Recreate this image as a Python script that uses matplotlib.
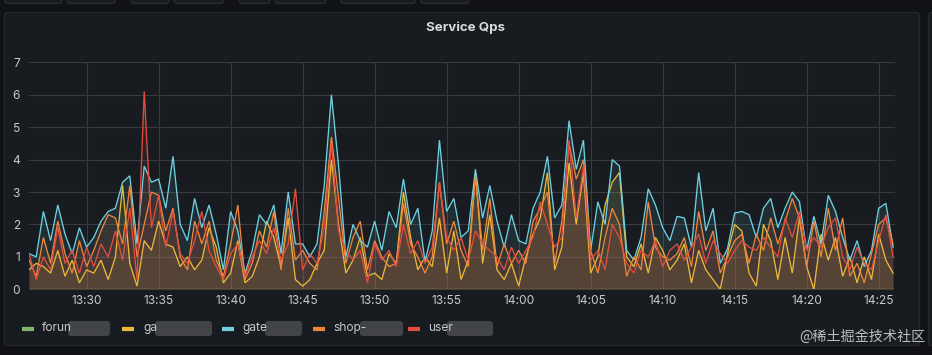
import matplotlib
matplotlib.use("Agg")
import matplotlib.pyplot as plt
import matplotlib.dates as mdates
import matplotlib.transforms as mtransforms
from matplotlib.patches import FancyBboxPatch, Rectangle
from matplotlib.lines import Line2D
import pandas as pd

# ---------------- data ----------------
start_time = "2023-01-01 13:26:00"
step = "30s"

series_names = ["forun", "ga", "gate", "shop-", "user"]
series_colors = ["#7EB26D", "#EAB839", "#6ED0E0", "#EF843C", "#E24D42"]

forum = [0.0] * 121

ga = [0.6, 0.8, 0.7, 0.5, 1.2, 0.4, 0.9, 0.2, 0.6, 0.5,
      0.9, 0.3, 1.0, 3.2, 0.8, 0.1, 1.5, 1.2, 2.1, 1.4,
      1.3, 0.7, 1.0, 0.6, 0.9, 1.9, 1.3, 0.2, 0.5, 1.5,
      0.2, 0.4, 1.0, 2.1, 1.6, 0.7, 2.2, 0.3, 0.1, 0.3,
      0.8, 1.2, 4.0, 2.0, 0.5, 0.9, 1.6, 0.4, 0.5, 0.3,
      1.1, 0.8, 3.0, 1.6, 0.6, 1.0, 0.7, 2.2, 0.5, 1.8,
      0.3, 0.9, 3.6, 0.8, 2.3, 0.6, 0.3, 0.8, 0.1, 1.0,
      1.7, 2.2, 3.6, 0.6, 1.3, 3.9, 2.0, 3.6, 0.5, 1.0,
      2.6, 3.3, 3.6, 1.0, 0.7, 1.4, 0.5, 1.6, 1.2, 0.6,
      0.9, 1.4, 0.2, 1.2, 0.6, 0.3, 0.0, 1.1, 2.0, 1.8,
      0.5, 0.1, 2.0, 1.5, 0.3, 1.6, 0.5, 2.2, 0.7, 0.0,
      1.7, 0.9, 1.6, 0.4, 1.0, 0.2, 1.0, 0.3, 1.7, 0.9,
      0.5]

gate = [1.1, 1.0, 2.4, 1.5, 2.6, 1.7, 1.1, 1.9, 1.3, 1.6,
        2.1, 2.4, 2.5, 3.3, 3.5, 1.4, 3.8, 3.3, 3.4, 2.5,
        4.1, 2.0, 1.5, 2.8, 1.9, 2.6, 1.7, 0.6, 2.4, 1.8,
        0.5, 1.2, 2.3, 2.0, 2.6, 1.1, 3.0, 1.4, 1.4, 1.0,
        1.4, 3.2, 6.0, 3.8, 1.0, 2.0, 1.5, 1.3, 2.1, 1.2,
        2.4, 1.9, 3.4, 2.0, 2.5, 0.85, 1.8, 4.6, 2.4, 2.8,
        1.6, 1.8, 3.7, 2.2, 3.2, 2.1, 1.3, 2.3, 1.5, 1.4,
        2.5, 3.0, 4.1, 2.2, 2.6, 5.2, 3.7, 4.6, 1.2, 2.7,
        2.0, 4.0, 3.8, 1.2, 0.9, 1.6, 3.1, 2.6, 1.9, 1.5,
        2.25, 2.2, 1.3, 3.6, 1.8, 2.5, 0.8, 1.25, 2.35, 2.4,
        2.3, 1.6, 2.5, 2.8, 1.9, 2.5, 3.0, 2.7, 1.2, 2.25,
        1.4, 2.9, 2.4, 1.6, 0.9, 1.5, 0.7, 1.2, 2.5, 2.65,
        1.3]

shop = [0.9, 0.4, 1.6, 0.8, 2.1, 1.1, 0.5, 1.5, 0.7, 1.2,
        1.8, 2.3, 2.2, 1.4, 3.2, 1.0, 2.0, 3.0, 2.9, 1.8,
        2.5, 1.0, 0.6, 2.1, 1.4, 2.1, 0.9, 0.4, 1.4, 2.6,
        0.3, 0.8, 1.8, 1.3, 2.4, 0.6, 2.5, 0.9, 1.2, 0.8,
        0.6, 2.4, 4.7, 2.8, 0.8, 1.6, 2.1, 0.6, 1.5, 1.0,
        0.7, 0.8, 2.65, 1.4, 1.0, 0.5, 1.0, 3.3, 1.4, 2.1,
        1.2, 0.7, 3.5, 1.2, 2.8, 0.7, 1.4, 0.8, 1.2, 0.8,
        2.1, 2.5, 3.0, 0.8, 2.1, 4.5, 3.4, 4.0, 1.2, 0.5,
        1.6, 2.5, 2.0, 0.4, 1.0, 0.6, 2.7, 1.3, 1.0, 0.9,
        1.1, 1.6, 0.7, 2.4, 1.2, 1.8, 0.5, 1.0, 1.5, 1.7,
        0.8, 1.7, 1.2, 2.2, 1.4, 2.1, 2.8, 2.2, 0.7, 2.1,
        1.0, 2.5, 1.2, 2.2, 0.4, 0.8, 0.2, 1.1, 2.0, 2.2,
        1.4]

user = [1.1, 0.3, 1.0, 0.6, 1.9, 0.8, 1.2, 0.5, 1.3, 0.7,
        1.4, 1.0, 1.8, 0.9, 2.5, 0.3, 6.1, 1.9, 2.9, 1.3,
        2.4, 1.1, 0.8, 1.5, 2.4, 1.2, 0.7, 0.3, 1.1, 1.4,
        0.4, 1.0, 1.5, 1.1, 1.9, 0.9, 1.4, 3.1, 0.6, 1.1,
        0.8, 1.9, 4.5, 1.8, 1.2, 0.9, 1.2, 0.2, 1.4, 0.9,
        1.2, 0.7, 2.0, 1.1, 1.5, 0.8, 1.3, 3.3, 1.6, 1.2,
        1.6, 0.9, 1.8, 1.4, 1.2, 1.0, 0.6, 1.3, 0.8, 1.2,
        1.6, 2.7, 2.0, 1.3, 1.6, 4.6, 2.2, 3.8, 0.9, 1.2,
        0.6, 2.0, 1.6, 0.8, 0.5, 1.2, 1.0, 1.5, 0.7, 1.2,
        1.4, 0.9, 1.3, 1.7, 0.8, 1.5, 1.1, 0.8, 1.2, 1.5,
        1.3, 1.2, 1.6, 1.3, 1.0, 2.2, 1.6, 2.4, 1.2, 1.6,
        1.3, 1.9, 2.2, 1.0, 0.6, 1.3, 0.8, 0.6, 1.5, 2.3,
        1.0]

y_ticks = [0, 1, 2, 3, 4, 5, 6, 7]
title = "Service Qps"
watermark = "@稀土掘金技术社区"

# ---------------- style ----------------
W, H = 932, 355
PAGE_BG = "#111217"
PANEL_BG = "#181b1f"
PANEL_BORDER = "#25272c"
GRID = "#393b41"
TEXT = "#c8c9d0"

plt.rcParams["font.family"] = ["Inter", "DejaVu Sans"]

fig = plt.figure(figsize=(W / 100, H / 100), dpi=100, facecolor=PAGE_BG)
ident = mtransforms.IdentityTransform()


def rect_px(x0, y0, x1, y1, zorder=-5, **kw):
    # pixel coords from top-left
    p = FancyBboxPatch((x0, H - y1), x1 - x0, y1 - y0,
                       boxstyle="round,pad=0,rounding_size=3",
                       transform=ident, zorder=zorder, **kw)
    fig.patches.append(p)
    return p


# top control strip (cut off)
for x0, x1 in [(5, 62), (67, 115), (131, 169), (174, 223), (239, 270),
               (275, 326), (341, 415), (421, 469)]:
    rect_px(x0, -6, x1, 3.5, facecolor=PANEL_BG, edgecolor="#2c2e34", lw=0.9)

# main panel and neighbour panel edge
rect_px(4.5, 12.5, 919.5, 345.5, facecolor=PANEL_BG, edgecolor=PANEL_BORDER, lw=1)
rect_px(928.5, 12.5, 960, 345.5, facecolor=PANEL_BG, edgecolor=PANEL_BORDER, lw=1)

# ---------------- plot ----------------
left, right, top, bottom = 29, 895, 62.3, 289.3
ax = fig.add_axes([left / W, 1 - bottom / H, (right - left) / W, (bottom - top) / H])
ax.set_facecolor("none")
ax.set_zorder(2)

times = pd.date_range(start_time, periods=len(gate), freq=step)
all_series = [forum, ga, gate, shop, user]
for vals, col in zip(all_series, series_colors):
    ax.fill_between(times, vals, 0, color=col, alpha=0.1, lw=0, zorder=2)
for vals, col in zip(all_series, series_colors):
    ax.plot(times, vals, color=col, lw=0.95, zorder=3, solid_joinstyle="miter")

ax.set_ylim(y_ticks[0], y_ticks[-1])
ax.set_yticks(y_ticks)
ax.set_xlim(times[0], times[-1] + pd.Timedelta(seconds=8))
ax.xaxis.set_major_locator(mdates.MinuteLocator(byminute=range(0, 60, 5)))
ax.xaxis.set_major_formatter(mdates.DateFormatter("%H:%M"))

ax.grid(True, color=GRID, lw=0.8)
ax.set_axisbelow(True)
for s in ax.spines.values():
    s.set_visible(False)
ax.tick_params(axis="both", length=0, colors=TEXT, labelsize=8.6)
ax.tick_params(axis="y", pad=6.5)
ax.tick_params(axis="x", pad=4.0)

# title
fig.text(466 / W, 1 - 28 / H, title, ha="center", va="center",
         fontsize=9.6, fontweight="bold", color="#d8d9dc")

# legend
legend_items = [(22, 42, 68, 110), (122, 143, 155, 212), (222, 242, 265, 302),
                (313, 333, 360, 403), (408, 428, 447, 493)]
ly = 328
for (dx, tx, bx0, bx1), name, col in zip(legend_items, series_names, series_colors):
    fig.add_artist(Line2D([dx / W, (dx + 12) / W], [1 - (ly + 1) / H] * 2,
                          color=col, lw=3.0, solid_capstyle="butt"))
    fig.text(tx / W, 1 - ly / H, name, ha="left", va="center",
             fontsize=8.6, color=TEXT)
    rect_px(bx0, 321, bx1, 336, zorder=3, facecolor="#4b4c52", edgecolor="none", alpha=0.85)

# watermark
fig.text(925 / W, 1 - 337 / H, watermark, ha="right", va="center",
         fontsize=10.2, color="#e6e6e8", alpha=0.8,
         family=["Noto Sans CJK SC", "DejaVu Sans"])

fig.savefig("out.png", dpi=100, facecolor=PAGE_BG)
